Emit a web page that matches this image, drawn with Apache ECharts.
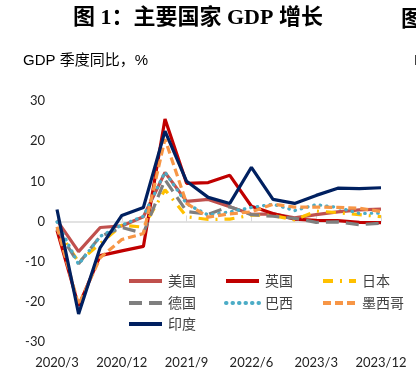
<!DOCTYPE html>
<html><head><meta charset="utf-8">
<script src="https://cdn.jsdelivr.net/npm/echarts@6/dist/echarts.min.js"></script>
<style>html,body{margin:0;padding:0;background:#fff}#c{width:416px;height:380px}</style>
</head><body><div id="c"></div>
<script>
const categories = ['2020/3','2020/6','2020/9','2020/12','2021/3','2021/6','2021/9','2021/12','2022/3','2022/6','2022/9','2022/12','2023/3','2023/6','2023/9','2023/12'];
const us      = [0.3, -7.5, -1.5, -1.1, 1.2, 12.2, 5.0, 5.5, 3.7, 1.8, 1.9, 0.9, 1.7, 2.4, 2.9, 3.1];
const uk      = [-2.2, -21.0, -8.5, -7.3, -6.2, 25.5, 9.5, 9.7, 11.5, 3.8, 2.0, 0.6, 0.3, 0.2, -0.2, -0.3];
const japan   = [-1.8, -10.1, -5.5, -0.9, -1.4, 7.9, 1.2, 0.5, 0.6, 1.6, 1.5, 0.4, 2.6, 2.2, 1.7, 1.2];
const germany = [-1.9, -10.5, -3.7, -1.5, -2.9, 10.4, 2.5, 1.8, 3.7, 1.7, 1.3, 0.8, -0.2, -0.1, -0.8, -0.4];
const brazil  = [-0.1, -10.7, -3.7, -0.9, 1.3, 12.3, 4.4, 1.6, 2.4, 3.5, 4.3, 2.7, 4.2, 3.5, 2.0, 2.1];
const mexico  = [-1.3, -20.8, -9.0, -4.5, -3.0, 20.5, 4.5, 1.1, 1.9, 2.4, 4.3, 3.6, 3.6, 3.5, 3.3, 2.5];
const india   = [3.0, -23.0, -6.5, 1.5, 3.5, 22.5, 10.0, 6.0, 4.5, 13.5, 5.5, 4.5, 6.5, 8.3, 8.2, 8.4];
const yTicks = {min: -30, max: 30, interval: 10};

const chart = echarts.init(document.getElementById('c'), null, {renderer: 'canvas'});
const mk = (name, data, color, type, cap) => ({
  name, type: 'line', data, symbol: 'none', smooth: false,
  lineStyle: {color, width: 3.2, type: type || 'solid', cap: cap || 'butt'},
  itemStyle: {color}, emphasis: {disabled: true}
});
const legendCommon = {
  left: 122, orient: 'horizontal', itemWidth: 33, itemHeight: 10, itemGap: 28,
  itemStyle: {opacity: 0},
  lineStyle: {width: 4},
  textStyle: {fontSize: 14, color: '#404040', fontFamily: 'Noto Sans CJK SC', padding: [0, 0, 0, 1]},
  selectedMode: false
};
chart.setOption({
  animation: false,
  backgroundColor: '#fff',
  title: [
    {text: '图 1：主要国家 GDP 增长', left: 68, top: 2,
     textStyle: {fontSize: 22, fontWeight: 'bold', color: '#000', fontFamily: 'Liberation Serif, Noto Sans CJK SC'}},
    {text: '图', left: 396, top: 2,
     textStyle: {fontSize: 22, fontWeight: 'bold', color: '#000', fontFamily: 'Noto Sans CJK SC'}},
    {text: 'GDP 季度同比，%', left: 18, top: 48,
     textStyle: {fontSize: 15, fontWeight: 'normal', color: '#000', fontFamily: 'Liberation Sans, Noto Sans CJK SC'}},
    {text: 'F', left: 409, top: 48,
     textStyle: {fontSize: 15, fontWeight: 'normal', color: '#000', fontFamily: 'Liberation Sans'}}
  ],
  legend: [
    Object.assign({top: 269, data: ['美国', '英国', '日本']}, legendCommon),
    Object.assign({top: 291, data: ['德国', '巴西', '墨西哥']}, legendCommon),
    Object.assign({top: 312, data: ['印度']}, legendCommon)
  ],
  grid: {left: 57, right: 35, top: 101, bottom: 38, containLabel: false},
  xAxis: [
    {type: 'category', data: categories, boundaryGap: false, position: 'bottom',
     axisLine: {show: false, onZero: false}, axisTick: {show: false},
     axisLabel: {interval: 2, margin: 14, fontSize: 13, color: '#222', fontFamily: 'Lato'},
     splitLine: {show: false}},
    {type: 'category', data: categories, boundaryGap: false, position: 'bottom',
     axisLine: {show: true, onZero: true, lineStyle: {color: '#d9d9d9', width: 1.5}},
     axisTick: {show: true, inside: true, interval: 2, length: 6, lineStyle: {color: '#d9d9d9', width: 1}},
     axisLabel: {show: false}, splitLine: {show: false}}
  ],
  yAxis: {type: 'value', min: yTicks.min, max: yTicks.max, interval: yTicks.interval,
    axisLabel: {fontSize: 13, color: '#222', margin: 12, fontFamily: 'Lato'},
    splitLine: {show: false}, axisLine: {show: false}, axisTick: {show: false}},
  series: [
    mk('美国', us, '#C0504D'),
    mk('英国', uk, '#C00000'),
    mk('日本', japan, '#FFC000', [10, 7, 2, 7]),
    mk('德国', germany, '#7F7F7F', [13, 7]),
    mk('巴西', brazil, '#4BACC6', [0.5, 6], 'round'),
    mk('墨西哥', mexico, '#F79646', [8, 4]),
    mk('印度', india, '#002060')
  ]
});
</script></body></html>
